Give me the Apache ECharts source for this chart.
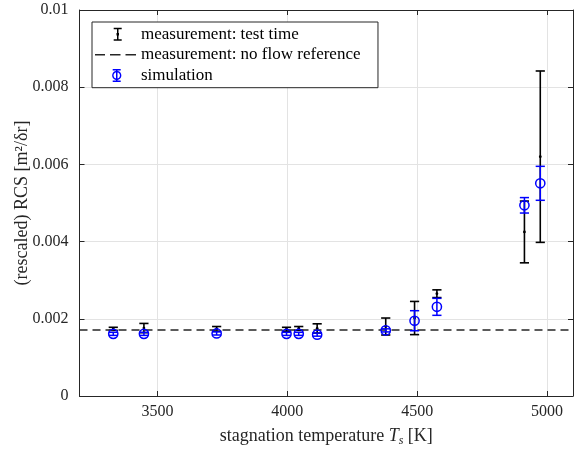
<!DOCTYPE html>
<html><head><meta charset="utf-8">
<script src="https://cdn.jsdelivr.net/npm/echarts@6/dist/echarts.min.js"></script>
<style>html,body{margin:0;padding:0;background:#fff}#c{width:576px;height:452px}</style>
</head><body><div id="c"></div>
<script>
// ---- data ----
const temps   = [3330, 3448, 3728, 3997, 4044, 4115, 4379, 4490, 4576, 4913, 4974];
const measVal = [0.00174, 0.00176, 0.00174, 0.00173, 0.00175, 0.00175, 0.00180, 0.00202, 0.00265, 0.00425, 0.00620];
const measErr = [0.00004, 0.00012, 0.00006, 0.00005, 0.00005, 0.00012, 0.00022, 0.00043, 0.00010, 0.00080, 0.00222];
const simVal  = [0.00161, 0.00161, 0.00162, 0.00161, 0.00161, 0.00159, 0.00170, 0.00195, 0.00231, 0.00494, 0.00551];
const simErr  = [0.00004, 0.00004, 0.00004, 0.00004, 0.00004, 0.00004, 0.00004, 0.00026, 0.00022, 0.00020, 0.00044];
const refLevel = 0.00171;
const xRange = [3200, 5100];
const yRange = [0, 0.01];
const xTicks = [3500, 4000, 4500, 5000];
const xTickLabels = ['3500', '4000', '4500', '5000'];
const yTicks = [0, 0.002, 0.004, 0.006, 0.008, 0.01];
const yTickLabels = ['0', '0.002', '0.004', '0.006', '0.008', '0.01'];
const seriesNames = ['measurement: test time', 'measurement: no flow reference', 'simulation'];

const FONT = 'Liberation Serif';
const AX = '#262626';
const GRID = '#e3e3e3';

function errorBar(color, lw, capHalf, dot, ring) {
  return function (params, api) {
    const x = api.value(0), y = api.value(1), e = api.value(2);
    const c = api.coord([x, y]);
    const t = api.coord([x, y + e]);
    const b = api.coord([x, y - e]);
    const st = {stroke: color, lineWidth: lw, fill: 'none'};
    const ch = [
      {type: 'line', shape: {x1: t[0], y1: t[1], x2: b[0], y2: b[1]}, style: st},
      {type: 'line', shape: {x1: t[0] - capHalf, y1: t[1], x2: t[0] + capHalf, y2: t[1]}, style: st},
      {type: 'line', shape: {x1: b[0] - capHalf, y1: b[1], x2: b[0] + capHalf, y2: b[1]}, style: st}
    ];
    if (dot) ch.push({type: 'circle', shape: {cx: c[0], cy: c[1], r: 1.4}, style: {fill: color}});
    if (ring) ch.push({type: 'circle', shape: {cx: c[0], cy: c[1], r: 4.6}, style: {fill: 'none', stroke: color, lineWidth: 1.5}});
    return {type: 'group', children: ch};
  };
}

function labelOf(ticks, labels) {
  return function (v) { const i = ticks.findIndex(t => Math.abs(t - v) < 1e-9); return i >= 0 ? labels[i] : ''; };
}

// legend icon paths in a 44x16 box (moveTo points fix the box)
function rect(x, y, w, h) { return 'M' + x + ',' + y + 'L' + (x + w) + ',' + y + 'L' + (x + w) + ',' + (y + h) + 'L' + x + ',' + (y + h) + 'Z'; }
function ring(cx, cy, r1, r2) {
  let s = '';
  const n = 28;
  for (let i = 0; i <= n; i++) { const a = 2 * Math.PI * i / n; s += (i ? 'L' : 'M') + (cx + r1 * Math.cos(a)).toFixed(2) + ',' + (cy + r1 * Math.sin(a)).toFixed(2); }
  s += 'Z';
  for (let i = 0; i <= n; i++) { const a = -2 * Math.PI * i / n; s += (i ? 'L' : 'M') + (cx + r2 * Math.cos(a)).toFixed(2) + ',' + (cy + r2 * Math.sin(a)).toFixed(2); }
  return s + 'Z';
}
const box = 'M0,0M44,16';
const iconMeas = 'path://' + box + rect(25.0, 1.5, 1.5, 13) + rect(21.7, 1.5, 8, 1.5) + rect(21.7, 13, 8, 1.5) + rect(24.5, 6.8, 2.5, 2.5);
const iconDash = 'path://' + box + rect(3, 7.3, 10, 1.5) + rect(18, 7.3, 10.5, 1.5) + rect(33.5, 7.3, 10.5, 1.5);
const iconSim = 'path://' + box + rect(24, 1.5, 1.5, 13) + rect(20.7, 1.5, 8, 1.5) + rect(20.7, 13, 8, 1.5) + ring(24.75, 8, 4.6, 3.2);

const chart = echarts.init(document.getElementById('c'), null, {renderer: 'canvas'});
const axisCommon = {
  axisLine: {show: true, onZero: false, lineStyle: {color: AX, width: 1}},
  axisTick: {show: true, inside: true, length: 5, lineStyle: {color: AX, width: 1}}
};
chart.setOption({
  animation: false,
  backgroundColor: '#fff',
  grid: {left: 79.5, right: 3, top: 10, bottom: 53, containLabel: false},
  legend: {
    orient: 'vertical', left: 92, top: 22,
    padding: [3.7, 17.5, 3.8, 0], itemGap: 3.6, itemWidth: 44, itemHeight: 16,
    backgroundColor: '#fff', borderColor: AX, borderWidth: 1, borderRadius: 0,
    selectedMode: false,
    itemStyle: {borderWidth: 0},
    textStyle: {fontFamily: FONT, fontSize: 17, color: '#000'},
    data: [
      {name: seriesNames[0], icon: iconMeas},
      {name: seriesNames[1], icon: iconDash},
      {name: seriesNames[2], icon: iconSim}
    ]
  },
  xAxis: [
    Object.assign({
      type: 'value', min: xRange[0], max: xRange[1], position: 'bottom',
      name: '{n|stagnation temperature }{i|T}{s|s}{n| [K]}',
      nameLocation: 'middle', nameGap: 29, nameMoveOverlap: false,
      nameTextStyle: {rich: {
        n: {fontFamily: FONT, fontSize: 18, color: '#262626', lineHeight: 22},
        i: {fontFamily: FONT, fontSize: 18, fontStyle: 'italic', color: '#262626', lineHeight: 22},
        s: {fontFamily: FONT, fontSize: 12, fontStyle: 'italic', color: '#262626', lineHeight: 22, verticalAlign: 'bottom'}
      }},
      axisLabel: {customValues: xTicks, formatter: labelOf(xTicks, xTickLabels), fontFamily: FONT, fontSize: 16, color: '#262626', margin: 8},
      splitLine: {show: true, lineStyle: {color: GRID, width: 1}}
    }, axisCommon, {axisTick: Object.assign({customValues: xTicks}, axisCommon.axisTick)}),
    Object.assign({
      type: 'value', min: xRange[0], max: xRange[1], position: 'top',
      axisLabel: {show: false}, splitLine: {show: false}
    }, axisCommon, {axisTick: Object.assign({customValues: xTicks}, axisCommon.axisTick)})
  ],
  yAxis: [
    Object.assign({
      type: 'value', min: yRange[0], max: yRange[1], interval: 0.002, position: 'left',
      name: '(rescaled) RCS [m²/δr]', nameLocation: 'middle', nameGap: 48, nameMoveOverlap: false,
      nameTextStyle: {fontFamily: FONT, fontSize: 18, color: '#262626'},
      axisLabel: {fontFamily: FONT, fontSize: 16, color: '#262626', margin: 11, formatter: labelOf(yTicks, yTickLabels)},
      splitLine: {show: true, lineStyle: {color: GRID, width: 1}}
    }, axisCommon),
    Object.assign({
      type: 'value', min: yRange[0], max: yRange[1], interval: 0.002, position: 'right',
      axisLabel: {show: false}, splitLine: {show: false}
    }, axisCommon)
  ],
  series: [
    {
      name: seriesNames[0], type: 'custom', xAxisIndex: 0, yAxisIndex: 0,
      itemStyle: {color: '#000'},
      renderItem: errorBar('#000', 1.6, 4.6, true, false),
      encode: {x: 0, y: 1},
      data: temps.map((t, i) => [t, measVal[i], measErr[i]]),
      z: 2
    },
    {
      name: seriesNames[1], type: 'line', xAxisIndex: 0, yAxisIndex: 0,
      data: xRange.map(x => [x, refLevel]), symbol: 'none', silent: true,
      itemStyle: {color: AX},
      lineStyle: {type: [8, 5], color: AX, width: 1.5},
      emphasis: {disabled: true},
      z: 3
    },
    {
      name: seriesNames[2], type: 'custom', xAxisIndex: 0, yAxisIndex: 0,
      itemStyle: {color: '#0000ff'},
      renderItem: errorBar('#0000ff', 1.5, 4.6, false, true),
      encode: {x: 0, y: 1},
      data: temps.map((t, i) => [t, simVal[i], simErr[i]]),
      z: 4
    }
  ]
});
</script>
</body></html>
